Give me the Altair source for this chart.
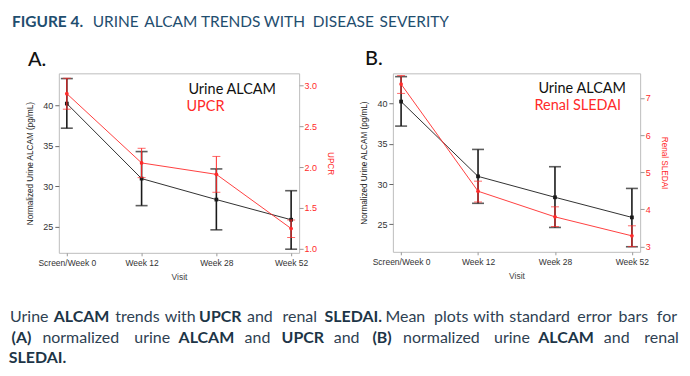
import altair as alt
import pandas as pd

# ---------------- data ----------------
visits = ["Screen/Week 0", "Week 12", "Week 28", "Week 52"]
alcam_mean = [40.25, 30.95, 28.35, 25.85]
alcam_lo = [37.2, 27.6, 24.6, 22.2]
alcam_hi = [43.35, 34.3, 32.15, 29.45]
upcr_mean = [2.90, 2.05, 1.91, 1.245]
upcr_lo = [2.71, 1.87, 1.69, 1.135]
upcr_hi = [3.09, 2.23, 2.13, 1.35]
sledai_mean = [7.37, 4.49, 3.80, 3.29]
sledai_lo = [7.12, 4.20, 3.54, 3.00]
sledai_hi = [7.60, 4.76, 4.07, 3.56]

title_words = [("FIGURE 4.", 1), ("URINE", 0), ("ALCAM", 0), ("TRENDS", 0), ("WITH", 0),
               ("DISEASE", 0), ("SEVERITY", 0)]
caption_lines = [
    [("Urine", 0), ("ALCAM", 1), ("trends", 0), ("with", 0), ("UPCR", 1), ("and", 0),
     ("renal", 0), ("SLEDAI.", 1), ("Mean", 0), ("plots", 0), ("with", 0),
     ("standard", 0), ("error", 0), ("bars", 0), ("for", 0)],
    [("(A)", 1), ("normalized", 0), ("urine", 0), ("ALCAM", 1), ("and", 0), ("UPCR", 1),
     ("and", 0), ("(B)", 1), ("normalized", 0), ("urine", 0), ("ALCAM", 1), ("and", 0),
     ("renal", 0)],
    [("SLEDAI.", 1)],
]

# ---------------- layout (page pixels) ----------------
OX, OY = 58, 72          # origin of panel A plot area on the page
title_span = [(8.3, 85), (93.3, 136.7), (144, 196.7), (204, 256.7), (263.3, 305),
              (315, 371.7), (378.3, 450.7)]
caption_span = [
    [(10, 46.7), (54.3, 107.3), (114.3, 159.3), (166, 193.3), (200, 240), (246, 273.3),
     (281, 318.3), (325, 381.7), (384.3, 426.7), (432.3, 470.7), (476.7, 501.7),
     (507.7, 572.7), (578.3, 612.3), (618.3, 650), (655.7, 680)],
    [(10, 31), (39.3, 120.7), (133.3, 170), (179.3, 232.7), (242.7, 271.7), (282.7, 322.7),
     (333.3, 360), (374.3, 390), (401.7, 481.7), (495, 530), (540, 593.3), (603.3, 631.7),
     (645, 680)],
    [(10, 63.3)],
]
caption_y = [321, 342, 363]

FONT_AX = "Liberation Sans"
FONT_TX = "Lato"
RED = "#ff2a2a"


def make_df(mean, lo, hi):
    return pd.DataFrame({"visit": visits, "mean": mean, "lo": lo, "hi": hi})


def x_enc():
    return alt.X(
        "visit:N", sort=visits,
        scale=alt.Scale(type="point", padding=0.107),
        axis=alt.Axis(title="Visit", labelAngle=0, labelFontSize=8.5, labelFont=FONT_AX,
                      labelColor="#333333", titleFont=FONT_AX, titleFontSize=8.5,
                      titleFontWeight="normal", titleColor="#444444", tickSize=3,
                      tickColor="#999999", labelPadding=3, titlePadding=5, domain=False,
                      grid=False),
    )


def series(df, domain, color, axis, cap, thick, shape, lw):
    sc = alt.Scale(domain=domain, nice=False, zero=False)
    base = alt.Chart(df)
    line = base.mark_line(color=color, strokeWidth=lw).encode(
        x=x_enc(), y=alt.Y("mean:Q", scale=sc, axis=axis))
    bars = base.mark_rule(color=color, strokeWidth=thick).encode(
        x=x_enc(), y=alt.Y("lo:Q", scale=sc, axis=axis), y2="hi:Q")
    cap_lo = base.mark_tick(color=color, size=cap, thickness=thick).encode(
        x=x_enc(), y=alt.Y("lo:Q", scale=sc, axis=axis))
    cap_hi = base.mark_tick(color=color, size=cap, thickness=thick).encode(
        x=x_enc(), y=alt.Y("hi:Q", scale=sc, axis=axis))
    pts = base.mark_point(color=color, shape=shape, filled=True, size=14, opacity=1,
                          strokeWidth=1).encode(
        x=x_enc(), y=alt.Y("mean:Q", scale=sc, axis=axis))
    return alt.layer(line, bars, cap_lo, cap_hi, pts)


def left_axis():
    return alt.Axis(title="Normalized Urine ALCAM (pg/mL)", values=[25, 30, 35, 40],
                    labelFont=FONT_AX, labelFontSize=9, labelColor="#333333",
                    titleFont=FONT_AX, titleFontSize=8.2, titleFontWeight="normal",
                    titleColor="#222222", tickSize=4, tickColor="#666666", labelPadding=2,
                    titlePadding=8, domain=False, grid=False)


def right_axis(title, values, fmt):
    return alt.Axis(title=title, orient="right", values=values, format=fmt,
                    labelFont=FONT_AX, labelFontSize=9, labelColor=RED,
                    titleFont=FONT_AX, titleFontSize=8.2, titleFontWeight="normal",
                    titleColor=RED, tickSize=4, tickColor="#999999", labelPadding=1,
                    titlePadding=9, domain=False, grid=False)


def txt(s, x, y, size, color="#111111", weight="normal", align="left"):
    return alt.Chart(pd.DataFrame({"t": [s]})).mark_text(
        align=align, baseline="alphabetic", fontSize=size, font=FONT_TX,
        fontWeight=weight, color=color).encode(
        text="t:N", x=alt.value(x), y=alt.value(y))


# ---------------- panel A ----------------
dfA1 = make_df(alcam_mean, alcam_lo, alcam_hi)
dfA2 = make_df(upcr_mean, upcr_lo, upcr_hi)
leftA = series(dfA1, [21.75, 44.0], "#1a1a1a", left_axis(), 12, 1.6, "square", 0.9)
rightA = series(dfA2, [0.947, 3.15], RED, right_axis("UPCR", [1.0, 1.5, 2.0, 2.5, 3.0], ".1f"),
                8, 1.0, "circle", 0.9)
plotA = alt.layer(leftA, rightA).resolve_scale(y="independent")

extrasA = [
    txt("Urine ALCAM", 188 - OX, 93 - OY, 14.5, "#111111"),
    txt("UPCR", 186 - OX, 110 - OY, 14.5, RED),
    txt("A.", 27 - OX, 65 - OY, 20, "#111111", 500),
]
for (w, b), (x0, x1) in zip(title_words, title_span):
    extrasA.append(txt(w, (x0 + x1) / 2 - OX, 25.7 - OY, 15.5, "#1f4e6f",
                       "bold" if b else "normal", "center"))
for line, spans, y in zip(caption_lines, caption_span, caption_y):
    for (w, b), (x0, x1) in zip(line, spans):
        extrasA.append(txt(w, (x0 + x1) / 2 - OX, y - OY, 16, "#1d3547" if b else "#2e4152",
                           "bold" if b else "normal", "center"))

anchor = alt.Chart(pd.DataFrame({"a": [0]})).mark_rule(strokeOpacity=0, strokeWidth=0).encode(
    x=alt.value(-OX), x2=alt.value(690 - OX), y=alt.value(-OY), y2=alt.value(376 - OY))

chartA = alt.layer(plotA, *extrasA, anchor).properties(width=241, height=180)

# ---------------- panel B ----------------
OXB = 393
dfB2 = make_df(sledai_mean, sledai_lo, sledai_hi)
leftB = series(dfA1, [21.57, 43.76], "#1a1a1a", left_axis(), 12, 1.6, "square", 0.9)
rightB = series(dfB2, [2.86, 7.66], RED, right_axis("Renal SLEDAI", [3, 4, 5, 6, 7], "d"),
                8, 1.0, "circle", 0.9)
plotB = alt.layer(leftB, rightB).resolve_scale(y="independent")
extrasB = [
    txt("Urine ALCAM", 539 - OXB, 91.5 - OY, 14.5, "#111111"),
    txt("Renal SLEDAI", 535 - OXB, 109 - OY, 14.5, RED),
    txt("B.", 365 - OXB, 64 - OY, 20, "#111111", 500),
]
chartB = alt.layer(plotB, *extrasB).properties(width=248, height=179)

chart = alt.hconcat(chartA, chartB, spacing=94, bounds="flush").configure(
    padding=0, background="white"
).configure_view(stroke="#bdbdbd", strokeWidth=1)

chart.save("out.html", embed_options={"renderer": "svg", "actions": False})
